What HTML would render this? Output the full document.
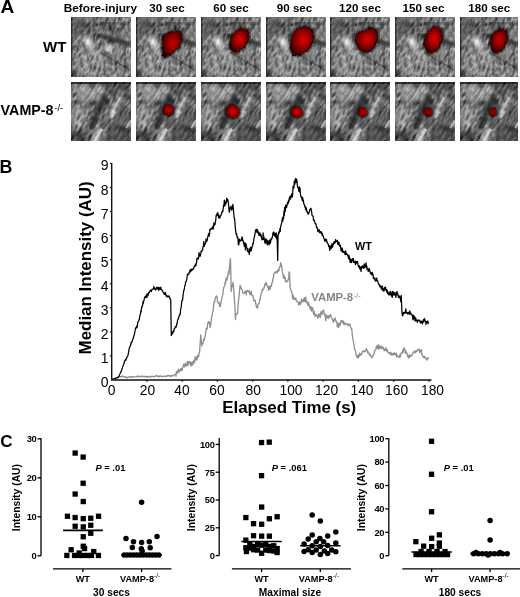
<!DOCTYPE html><html><head><meta charset="utf-8"><style>
html,body{margin:0;padding:0;background:#fff;}
body{width:520px;height:597px;overflow:hidden;position:relative;}
svg{position:absolute;left:0;top:0;}
text{font-family:"Liberation Sans", sans-serif;}
</style></head><body>
<svg width="520" height="597" viewBox="0 0 520 597">
<defs>
<filter id="tex" x="0" y="0" width="100%" height="100%" color-interpolation-filters="sRGB">
 <feTurbulence type="fractalNoise" baseFrequency="0.4 0.16" numOctaves="2" seed="4"/>
 <feColorMatrix type="matrix" values="0.33 0.33 0.33 0 0  0.33 0.33 0.33 0 0  0.33 0.33 0.33 0 0  0 0 0 0 1"/>
 <feComponentTransfer><feFuncR type="linear" slope="2.0" intercept="-0.5"/><feFuncG type="linear" slope="2.0" intercept="-0.5"/><feFuncB type="linear" slope="2.0" intercept="-0.5"/></feComponentTransfer>
</filter>
<filter id="tex2" x="0" y="0" width="100%" height="100%" color-interpolation-filters="sRGB">
 <feTurbulence type="fractalNoise" baseFrequency="0.4 0.13" numOctaves="2" seed="9"/>
 <feColorMatrix type="matrix" values="0.33 0.33 0.33 0 0  0.33 0.33 0.33 0 0  0.33 0.33 0.33 0 0  0 0 0 0 1"/>
 <feComponentTransfer><feFuncR type="linear" slope="2.0" intercept="-0.5"/><feFuncG type="linear" slope="2.0" intercept="-0.5"/><feFuncB type="linear" slope="2.0" intercept="-0.5"/></feComponentTransfer>
</filter>
<filter id="rough" x="-20%" y="-20%" width="140%" height="140%"><feTurbulence type="fractalNoise" baseFrequency="0.5" numOctaves="1" seed="2" result="t"/><feDisplacementMap in="SourceGraphic" in2="t" scale="4" xChannelSelector="R" yChannelSelector="G"/></filter>
<filter id="b1"><feGaussianBlur stdDeviation="1"/></filter>
<filter id="b2"><feGaussianBlur stdDeviation="2"/></filter>
<filter id="b3"><feGaussianBlur stdDeviation="3"/></filter>
<filter id="b05"><feGaussianBlur stdDeviation="0.6"/></filter>
<radialGradient id="rgB" cx="0.55" cy="0.45" r="0.62"><stop offset="0" stop-color="#e00008"/><stop offset="0.35" stop-color="#ac0004"/><stop offset="0.75" stop-color="#620000"/><stop offset="1" stop-color="#220000"/></radialGradient>
<radialGradient id="rgA" cx="0.55" cy="0.45" r="0.62"><stop offset="0" stop-color="#c80006"/><stop offset="0.4" stop-color="#960004"/><stop offset="0.78" stop-color="#580000"/><stop offset="1" stop-color="#200000"/></radialGradient>
<radialGradient id="rgC" cx="0.5" cy="0.45" r="0.6"><stop offset="0" stop-color="#a00000"/><stop offset="0.6" stop-color="#780000"/><stop offset="1" stop-color="#300000"/></radialGradient>
<radialGradient id="rg1" cx="0.55" cy="0.45" r="0.6"><stop offset="0" stop-color="#e00202"/><stop offset="0.55" stop-color="#b00000"/><stop offset="0.85" stop-color="#700000"/><stop offset="1" stop-color="#300000"/></radialGradient>
<radialGradient id="rg2" cx="0.5" cy="0.45" r="0.6"><stop offset="0" stop-color="#b00000"/><stop offset="0.6" stop-color="#800000"/><stop offset="1" stop-color="#300000"/></radialGradient>
<radialGradient id="bright" r="0.5"><stop offset="0" stop-color="#fff" stop-opacity="0.9"/><stop offset="1" stop-color="#fff" stop-opacity="0"/></radialGradient>
<radialGradient id="dark" r="0.5"><stop offset="0" stop-color="#000" stop-opacity="0.7"/><stop offset="1" stop-color="#000" stop-opacity="0"/></radialGradient>
<g id="wtbg">
 <rect x="0" y="0" width="60" height="60" fill="#7a7a7a"/>
 <g filter="url(#b2)">
  <rect x="0" y="0" width="26" height="20" fill="#606060"/>
  <ellipse cx="40" cy="12" rx="14" ry="5" transform="rotate(8 40 12)" fill="#5e5e5e"/>
  <ellipse cx="38" cy="31" rx="9" ry="4" transform="rotate(25 38 31)" fill="#9a9a9a"/>
  <rect x="0" y="32" width="30" height="28" fill="#878787"/>
  <rect x="33" y="40" width="27" height="20" fill="#7c7c7c"/>
  <rect x="0" y="52" width="8" height="8" fill="#4a4a4a"/>
  <rect x="54" y="10" width="6" height="24" fill="#8a8a8a"/>
 </g>
 <path d="M24 8 Q40 4 56 8" stroke="#2a2a2a" stroke-width="2.5" fill="none" opacity="0.7" filter="url(#b1)"/>
 <path d="M22 18 Q40 20 60 29" stroke="#1e1e1e" stroke-width="5" fill="none" opacity="0.65" filter="url(#b1)"/>
 <rect x="0" y="0" width="1.5" height="60" fill="#333"/>
 <g transform="rotate(20 30 30)" style="mix-blend-mode:overlay"><rect x="-30" y="-30" width="120" height="120" filter="url(#tex)" opacity="0.8"/></g>
 <ellipse cx="17" cy="25" rx="6" ry="9" transform="rotate(-35 17 25)" fill="url(#bright)"/>
 <ellipse cx="24" cy="34" rx="6" ry="12" transform="rotate(-40 24 34)" fill="url(#bright)" opacity="0.35"/>
 <ellipse cx="37" cy="33" rx="4" ry="3" fill="url(#bright)" opacity="0.8"/>
 <path d="M30 36 Q45 44 60 54" stroke="#1a1a1a" stroke-width="1.8" fill="none" opacity="0.35" filter="url(#b05)"/>
 <path d="M30 0 L24 22" stroke="#ddd" stroke-width="1.4" opacity="0.3" filter="url(#b05)"/>
 <path d="M31 39 L23 60" stroke="#ddd" stroke-width="1.6" opacity="0.35" filter="url(#b05)"/>
 <path d="M21 31 L6 58" stroke="#ddd" stroke-width="1.4" opacity="0.3" filter="url(#b05)"/>
</g>
<g id="vbg">
 <rect x="0" y="0" width="60" height="60" fill="#686868"/>
 <g filter="url(#b2)">
  <rect x="2" y="2" width="30" height="16" fill="#929292"/>
  <rect x="0" y="20" width="16" height="26" fill="#8a8a8a"/>
  <ellipse cx="46" cy="7" rx="12" ry="6" fill="#484848"/>
  <rect x="0" y="50" width="15" height="10" fill="#3a3a3a"/>
  <rect x="36" y="44" width="24" height="16" fill="#505050"/>
  <rect x="46" y="18" width="14" height="24" fill="#5a5a5a"/>
  <path d="M52 10 L38 38" stroke="#9a9a9a" stroke-width="5" fill="none"/>
  <path d="M30 46 L22 60" stroke="#a8a8a8" stroke-width="8" fill="none"/>
 </g>
 <path d="M35 12 Q27 28 20 47" stroke="#2a2a2a" stroke-width="6" fill="none" opacity="0.8" filter="url(#b1)"/>
 <rect x="0" y="0" width="60" height="2" fill="#2a2a2a" filter="url(#b05)"/>
 <g transform="rotate(30 30 30)" style="mix-blend-mode:overlay"><rect x="-30" y="-30" width="120" height="120" filter="url(#tex2)" opacity="0.8"/></g>
 <path d="M49 15 L41 31" stroke="#eee" stroke-width="2.2" opacity="0.55" filter="url(#b05)"/>
 <path d="M60 38 L55 46" stroke="#eee" stroke-width="2" opacity="0.5" filter="url(#b05)"/>
 <path d="M31 47 L23 60" stroke="#f4f4f4" stroke-width="2.5" opacity="0.6" filter="url(#b05)"/>
 <ellipse cx="8" cy="41" rx="4" ry="4" fill="url(#bright)" opacity="0.7"/>
 <ellipse cx="43" cy="30" rx="3" ry="3" fill="url(#bright)" opacity="0.7"/>
</g>
</defs>
<svg x="71" y="17" width="60" height="60" viewBox="0 0 60 60" overflow="hidden">
<use href="#wtbg"/>
</svg>
<svg x="136" y="17" width="60" height="60" viewBox="0 0 60 60" overflow="hidden">
<use href="#wtbg"/>
<polygon points="27.6,19.9 30.6,16.9 34.8,15.1 40.1,14.5 44.9,15.1 45.5,19.3 44.3,26.4 43.1,30.6 39.5,33.0 36.0,36.0 32.4,38.3 28.8,40.7 27.0,38.3 26.7,31.2 27.0,24.0" fill="#000" stroke="#000" stroke-width="3" stroke-linejoin="round" opacity="0.7" filter="url(#b1)"/>
<polygon points="27.6,19.9 30.6,16.9 34.8,15.1 40.1,14.5 44.9,15.1 45.5,19.3 44.3,26.4 43.1,30.6 39.5,33.0 36.0,36.0 32.4,38.3 28.8,40.7 27.0,38.3 26.7,31.2 27.0,24.0" fill="url(#rgA)" stroke="#2a0000" stroke-width="1" stroke-linejoin="round" filter="url(#rough)"/>
</svg>
<svg x="201" y="17" width="60" height="60" viewBox="0 0 60 60" overflow="hidden">
<use href="#wtbg"/>
<polygon points="29.4,22.8 31.2,18.7 34.8,14.5 39.5,12.4 44.3,12.7 47.3,15.1 47.3,19.9 46.1,25.2 43.1,30.0 39.5,33.0 36.0,34.8 32.4,34.8 30.2,32.4 29.0,28.2" fill="#000" stroke="#000" stroke-width="3" stroke-linejoin="round" opacity="0.7" filter="url(#b1)"/>
<polygon points="29.4,22.8 31.2,18.7 34.8,14.5 39.5,12.4 44.3,12.7 47.3,15.1 47.3,19.9 46.1,25.2 43.1,30.0 39.5,33.0 36.0,34.8 32.4,34.8 30.2,32.4 29.0,28.2" fill="url(#rgB)" stroke="#2a0000" stroke-width="1" stroke-linejoin="round" filter="url(#rough)"/>
</svg>
<svg x="266" y="17" width="60" height="60" viewBox="0 0 60 60" overflow="hidden">
<use href="#wtbg"/>
<polygon points="25.2,22.8 27.0,16.9 31.2,12.1 37.2,10.3 43.1,10.9 46.7,14.5 47.3,20.5 45.5,27.6 41.9,32.4 37.2,36.0 32.4,38.3 28.2,38.3 25.5,34.8 24.6,28.8" fill="#000" stroke="#000" stroke-width="3" stroke-linejoin="round" opacity="0.7" filter="url(#b1)"/>
<polygon points="25.2,22.8 27.0,16.9 31.2,12.1 37.2,10.3 43.1,10.9 46.7,14.5 47.3,20.5 45.5,27.6 41.9,32.4 37.2,36.0 32.4,38.3 28.2,38.3 25.5,34.8 24.6,28.8" fill="url(#rgB)" stroke="#2a0000" stroke-width="1" stroke-linejoin="round" filter="url(#rough)"/>
</svg>
<svg x="330" y="17" width="60" height="60" viewBox="0 0 60 60" overflow="hidden">
<use href="#wtbg"/>
<polygon points="25.8,19.9 28.2,15.7 33.6,14.5 38.3,12.1 44.3,12.1 47.3,15.7 46.7,22.8 44.9,28.8 41.3,33.0 37.2,34.8 32.4,34.8 29.4,31.8 27.0,27.6 25.5,23.4" fill="#000" stroke="#000" stroke-width="3" stroke-linejoin="round" opacity="0.7" filter="url(#b1)"/>
<polygon points="25.8,19.9 28.2,15.7 33.6,14.5 38.3,12.1 44.3,12.1 47.3,15.7 46.7,22.8 44.9,28.8 41.3,33.0 37.2,34.8 32.4,34.8 29.4,31.8 27.0,27.6 25.5,23.4" fill="url(#rgB)" stroke="#2a0000" stroke-width="1" stroke-linejoin="round" filter="url(#rough)"/>
</svg>
<svg x="395" y="17" width="60" height="60" viewBox="0 0 60 60" overflow="hidden">
<use href="#wtbg"/>
<polygon points="30.2,20.5 33.6,14.5 37.8,10.9 42.5,10.3 46.1,12.7 47.3,18.1 46.1,25.2 43.7,30.6 40.1,34.2 36.0,36.0 32.4,34.8 30.2,30.6 29.4,25.2" fill="#000" stroke="#000" stroke-width="3" stroke-linejoin="round" opacity="0.7" filter="url(#b1)"/>
<polygon points="30.2,20.5 33.6,14.5 37.8,10.9 42.5,10.3 46.1,12.7 47.3,18.1 46.1,25.2 43.7,30.6 40.1,34.2 36.0,36.0 32.4,34.8 30.2,30.6 29.4,25.2" fill="url(#rgB)" stroke="#2a0000" stroke-width="1" stroke-linejoin="round" filter="url(#rough)"/>
</svg>
<svg x="460" y="17" width="58" height="60" viewBox="0 0 58 60" overflow="hidden">
<use href="#wtbg"/>
<polygon points="30.8,21.1 33.8,16.3 38.5,13.3 43.3,12.7 46.6,14.5 46.9,19.9 45.7,26.4 42.7,31.8 38.5,35.4 34.4,35.4 32.0,32.4 30.4,26.4" fill="#000" stroke="#000" stroke-width="3" stroke-linejoin="round" opacity="0.7" filter="url(#b1)"/>
<polygon points="30.8,21.1 33.8,16.3 38.5,13.3 43.3,12.7 46.6,14.5 46.9,19.9 45.7,26.4 42.7,31.8 38.5,35.4 34.4,35.4 32.0,32.4 30.4,26.4" fill="url(#rgA)" stroke="#2a0000" stroke-width="1" stroke-linejoin="round" filter="url(#rough)"/>
</svg>
<svg x="71" y="82" width="60" height="59" viewBox="0 0 60 59" overflow="hidden">
<use href="#vbg"/>
</svg>
<svg x="136" y="82" width="60" height="59" viewBox="0 0 60 59" overflow="hidden">
<use href="#vbg"/>
<ellipse cx="32.4" cy="28.2" rx="9.5" ry="12.8" transform="rotate(0 32.4 30.2)" fill="#123" opacity="0.22" filter="url(#b2)"/>
<ellipse cx="32.4" cy="28.2" rx="6.5" ry="6.8" transform="rotate(0 32.4 28.2)" fill="#000" opacity="0.45" filter="url(#b05)"/>
<ellipse cx="32.4" cy="28.2" rx="5.5" ry="5.8" transform="rotate(0 32.4 28.2)" fill="url(#rgA)" filter="url(#rough)"/>
</svg>
<svg x="201" y="82" width="60" height="59" viewBox="0 0 60 59" overflow="hidden">
<use href="#vbg"/>
<ellipse cx="31.5" cy="29.8" rx="11.2" ry="13.8" transform="rotate(30 31.5 31.8)" fill="#123" opacity="0.22" filter="url(#b2)"/>
<ellipse cx="31.5" cy="29.8" rx="8.2" ry="7.8" transform="rotate(30 31.5 29.8)" fill="#000" opacity="0.45" filter="url(#b05)"/>
<ellipse cx="31.5" cy="29.8" rx="7.2" ry="6.8" transform="rotate(30 31.5 29.8)" fill="url(#rgB)" filter="url(#rough)"/>
</svg>
<svg x="266" y="82" width="60" height="59" viewBox="0 0 60 59" overflow="hidden">
<use href="#vbg"/>
<ellipse cx="30.6" cy="30.2" rx="10.3" ry="12.6" transform="rotate(30 30.6 32.2)" fill="#123" opacity="0.22" filter="url(#b2)"/>
<ellipse cx="30.6" cy="30.2" rx="7.3" ry="6.6" transform="rotate(30 30.6 30.2)" fill="#000" opacity="0.45" filter="url(#b05)"/>
<ellipse cx="30.6" cy="30.2" rx="6.3" ry="5.6" transform="rotate(30 30.6 30.2)" fill="url(#rgB)" filter="url(#rough)"/>
</svg>
<svg x="330" y="82" width="60" height="59" viewBox="0 0 60 59" overflow="hidden">
<use href="#vbg"/>
<ellipse cx="32.6" cy="30.2" rx="8.8" ry="12" transform="rotate(30 32.6 32.2)" fill="#123" opacity="0.22" filter="url(#b2)"/>
<ellipse cx="32.6" cy="30.2" rx="5.8" ry="6" transform="rotate(30 32.6 30.2)" fill="#000" opacity="0.45" filter="url(#b05)"/>
<ellipse cx="32.6" cy="30.2" rx="4.8" ry="5" transform="rotate(30 32.6 30.2)" fill="url(#rgA)" filter="url(#rough)"/>
</svg>
<svg x="395" y="82" width="60" height="59" viewBox="0 0 60 59" overflow="hidden">
<use href="#vbg"/>
<ellipse cx="33.3" cy="30.2" rx="8.2" ry="11.6" transform="rotate(30 33.3 32.2)" fill="#123" opacity="0.22" filter="url(#b2)"/>
<ellipse cx="33.3" cy="30.2" rx="5.2" ry="5.6" transform="rotate(30 33.3 30.2)" fill="#000" opacity="0.45" filter="url(#b05)"/>
<ellipse cx="33.3" cy="30.2" rx="4.2" ry="4.6" transform="rotate(30 33.3 30.2)" fill="url(#rgC)" filter="url(#rough)"/>
</svg>
<svg x="460" y="82" width="58" height="59" viewBox="0 0 58 59" overflow="hidden">
<use href="#vbg"/>
<ellipse cx="33.2" cy="30.2" rx="7.4" ry="11.6" transform="rotate(20 33.2 32.2)" fill="#123" opacity="0.22" filter="url(#b2)"/>
<ellipse cx="33.2" cy="30.2" rx="4.4" ry="5.6" transform="rotate(20 33.2 30.2)" fill="#000" opacity="0.45" filter="url(#b05)"/>
<ellipse cx="33.2" cy="30.2" rx="3.4" ry="4.6" transform="rotate(20 33.2 30.2)" fill="url(#rgC)" filter="url(#rough)"/>
</svg>
<text x="100.4" y="12.4" font-size="11.75" font-weight="bold" text-anchor="middle" fill="#000"  >Before-injury</text>
<text x="167.0" y="12.4" font-size="11.6" font-weight="bold" text-anchor="middle" fill="#000"  >30 sec</text>
<text x="231.0" y="12.4" font-size="11.6" font-weight="bold" text-anchor="middle" fill="#000"  >60 sec</text>
<text x="294.5" y="12.4" font-size="11.6" font-weight="bold" text-anchor="middle" fill="#000"  >90 sec</text>
<text x="360.0" y="12.4" font-size="11.6" font-weight="bold" text-anchor="middle" fill="#000"  >120 sec</text>
<text x="423.5" y="12.4" font-size="11.6" font-weight="bold" text-anchor="middle" fill="#000"  >150 sec</text>
<text x="489.3" y="12.4" font-size="11.6" font-weight="bold" text-anchor="middle" fill="#000"  >180 sec</text>
<text x="0.5" y="12.7" font-size="19" font-weight="bold" text-anchor="start" fill="#000"  >A</text>
<text x="66.4" y="52.3" font-size="15" font-weight="bold" text-anchor="end" fill="#000"  >WT</text>
<text x="0.6" y="114.6" font-size="14.3" font-weight="bold">VAMP-8<tspan font-size="9.7" font-weight="normal" dx="0.6" dy="-3.7">-/-</tspan></text>
<g stroke="#111" stroke-width="1.4" fill="none">
<path d="M111.7 163 L111.7 380.0 L431.5 380.0"/>
</g><g stroke="#111" stroke-width="1.2" fill="none">
<path d="M109.9 355.9 L111.7 355.9"/>
<path d="M109.9 331.9 L111.7 331.9"/>
<path d="M109.9 307.8 L111.7 307.8"/>
<path d="M109.9 283.8 L111.7 283.8"/>
<path d="M109.9 259.7 L111.7 259.7"/>
<path d="M109.9 235.6 L111.7 235.6"/>
<path d="M109.9 211.6 L111.7 211.6"/>
<path d="M109.9 187.5 L111.7 187.5"/>
<path d="M109.9 163.5 L111.7 163.5"/>
<path d="M146.9 380.0 L146.9 381.8"/>
<path d="M182.2 380.0 L182.2 381.8"/>
<path d="M217.4 380.0 L217.4 381.8"/>
<path d="M252.7 380.0 L252.7 381.8"/>
<path d="M287.9 380.0 L287.9 381.8"/>
<path d="M323.2 380.0 L323.2 381.8"/>
<path d="M358.4 380.0 L358.4 381.8"/>
<path d="M393.7 380.0 L393.7 381.8"/>
<path d="M428.9 380.0 L428.9 381.8"/>
</g>
<text x="108.6" y="387.3" font-size="14" font-weight="normal" text-anchor="end" fill="#000"  >0</text>
<text x="108.6" y="362.94" font-size="14" font-weight="normal" text-anchor="end" fill="#000"  >1</text>
<text x="108.6" y="338.88" font-size="14" font-weight="normal" text-anchor="end" fill="#000"  >2</text>
<text x="108.6" y="314.82" font-size="14" font-weight="normal" text-anchor="end" fill="#000"  >3</text>
<text x="108.6" y="290.76" font-size="14" font-weight="normal" text-anchor="end" fill="#000"  >4</text>
<text x="108.6" y="266.7" font-size="14" font-weight="normal" text-anchor="end" fill="#000"  >5</text>
<text x="108.6" y="242.64000000000001" font-size="14" font-weight="normal" text-anchor="end" fill="#000"  >6</text>
<text x="108.6" y="218.58" font-size="14" font-weight="normal" text-anchor="end" fill="#000"  >7</text>
<text x="108.6" y="194.52" font-size="14" font-weight="normal" text-anchor="end" fill="#000"  >8</text>
<text x="108.6" y="170.46" font-size="14" font-weight="normal" text-anchor="end" fill="#000"  >9</text>
<text x="111.7" y="395.3" font-size="13.8" font-weight="normal" text-anchor="middle" fill="#000"  >0</text>
<text x="147.4" y="395.3" font-size="13.8" font-weight="normal" text-anchor="middle" fill="#000"  >20</text>
<text x="181.9" y="395.3" font-size="13.8" font-weight="normal" text-anchor="middle" fill="#000"  >40</text>
<text x="217" y="395.3" font-size="13.8" font-weight="normal" text-anchor="middle" fill="#000"  >60</text>
<text x="253.3" y="395.3" font-size="13.8" font-weight="normal" text-anchor="middle" fill="#000"  >80</text>
<text x="291" y="395.3" font-size="13.8" font-weight="normal" text-anchor="middle" fill="#000"  >100</text>
<text x="326.6" y="395.3" font-size="13.8" font-weight="normal" text-anchor="middle" fill="#000"  >120</text>
<text x="362" y="395.3" font-size="13.8" font-weight="normal" text-anchor="middle" fill="#000"  >140</text>
<text x="396.6" y="395.3" font-size="13.8" font-weight="normal" text-anchor="middle" fill="#000"  >160</text>
<text x="432.5" y="395.3" font-size="13.8" font-weight="normal" text-anchor="middle" fill="#000"  >180</text>
<text x="289.2" y="413.2" font-size="16.9" font-weight="bold" text-anchor="middle" fill="#000"  >Elapsed Time (s)</text>
<text transform="translate(91 267.9) rotate(-90)" x="0" y="0" font-size="16.95" font-weight="bold" text-anchor="middle">Median Intensity (AU)</text>
<text x="-0.6" y="173.3" font-size="17.8" font-weight="bold" text-anchor="start" fill="#000"  >B</text>
<text x="355" y="249.8" font-size="10.8" font-weight="bold" text-anchor="start" fill="#000"  >WT</text>
<text x="311.3" y="301.4" font-size="11.3" font-weight="bold" fill="#858585">VAMP-8<tspan font-size="7.2" font-weight="normal" dx="0.6" dy="-3.3">-/-</tspan></text>
<path d="M111.8 379.6 L112.2 379.4 L112.6 379.5 L113.0 379.9 L113.5 379.2 L113.9 379.5 L114.3 379.1 L114.7 378.6 L115.1 378.1 L115.5 377.7 L115.9 378.0 L116.3 377.8 L116.8 377.5 L117.2 377.7 L117.6 377.1 L118.0 376.8 L118.4 377.3 L118.8 376.7 L119.2 376.6 L119.6 376.4 L120.0 376.8 L120.4 376.8 L120.8 376.6 L121.2 376.7 L121.6 376.9 L122.0 376.2 L122.5 375.9 L122.9 376.1 L123.3 376.6 L123.7 376.4 L124.1 376.9 L124.5 376.9 L124.9 376.9 L125.3 377.2 L125.7 376.7 L126.1 377.8 L126.5 377.5 L126.9 377.7 L127.3 377.3 L127.7 377.2 L128.1 377.0 L128.5 376.9 L128.9 376.9 L129.3 377.0 L129.7 376.9 L130.1 377.2 L130.6 376.8 L131.0 377.3 L131.4 377.6 L131.8 376.9 L132.2 377.0 L132.6 376.5 L133.0 376.5 L133.4 376.7 L133.8 376.8 L134.2 376.9 L134.6 376.8 L135.0 376.8 L135.4 376.9 L135.8 376.9 L136.2 376.8 L136.6 376.5 L137.0 376.5 L137.4 376.2 L137.8 376.7 L138.3 376.0 L138.7 376.9 L139.1 376.4 L139.5 376.6 L139.9 376.7 L140.3 376.6 L140.7 376.4 L141.1 376.1 L141.5 376.5 L141.9 376.2 L142.3 376.7 L142.7 376.3 L143.1 376.6 L143.5 376.3 L143.9 376.4 L144.3 376.8 L144.7 376.4 L145.1 376.7 L145.5 376.5 L145.9 376.2 L146.4 376.9 L146.8 376.4 L147.2 376.5 L147.6 377.0 L148.0 376.6 L148.4 376.9 L148.8 376.7 L149.2 376.6 L149.6 376.9 L150.0 376.6 L150.4 376.2 L150.8 377.1 L151.2 376.8 L151.6 376.4 L152.0 376.3 L152.4 376.5 L152.8 376.3 L153.3 376.5 L153.7 376.7 L154.1 376.8 L154.5 376.4 L154.9 376.5 L155.3 376.2 L155.7 376.0 L156.1 375.5 L156.5 376.0 L156.9 376.1 L157.3 375.9 L157.7 376.3 L158.1 376.0 L158.5 376.6 L159.0 376.9 L159.4 376.4 L159.8 376.0 L160.2 376.3 L160.6 376.1 L161.0 376.0 L161.4 376.3 L161.8 376.4 L162.2 376.3 L162.6 376.8 L163.0 376.4 L163.4 376.1 L163.8 376.1 L164.2 376.2 L164.6 376.3 L165.1 376.6 L165.5 376.3 L165.9 376.3 L166.3 375.9 L166.7 376.3 L167.1 376.2 L167.5 375.7 L167.9 375.5 L168.3 375.5 L168.7 375.8 L169.1 375.6 L169.5 376.1 L169.9 375.4 L170.3 376.2 L170.8 376.3 L171.2 375.7 L171.6 376.2 L172.0 375.7 L172.4 375.8 L172.8 375.5 L173.2 375.6 L173.6 375.6 L174.0 375.2 L174.4 374.7 L174.8 374.6 L175.2 374.1 L175.6 374.1 L176.0 376.1 L176.4 371.5 L176.8 373.3 L177.2 373.1 L177.6 371.6 L178.0 371.9 L178.4 369.2 L178.8 372.4 L179.2 369.7 L179.6 371.0 L180.0 369.8 L180.4 370.3 L180.8 368.5 L181.2 368.6 L181.6 370.7 L182.0 370.6 L182.4 368.8 L182.8 367.3 L183.2 366.1 L183.7 364.1 L184.1 366.2 L184.5 366.9 L184.9 366.8 L185.3 363.1 L185.7 365.2 L186.1 365.5 L186.5 364.4 L186.9 365.7 L187.3 361.4 L187.8 365.6 L188.2 363.9 L188.6 361.8 L189.0 363.5 L189.4 361.3 L189.9 363.0 L190.3 362.0 L190.7 366.0 L191.2 363.3 L191.6 362.5 L192.0 365.3 L192.5 361.8 L192.9 364.3 L193.3 362.6 L193.8 360.5 L194.2 362.2 L194.6 362.7 L195.0 356.8 L195.4 358.4 L195.9 359.5 L196.3 360.0 L196.7 356.3 L197.1 359.8 L197.5 357.5 L197.9 355.1 L198.4 356.9 L198.8 355.8 L199.2 352.3 L199.6 352.4 L200.7 335.0 L201.8 345.8 L202.2 343.5 L202.6 343.9 L203.0 343.8 L203.4 340.3 L203.8 338.9 L204.2 340.3 L204.6 338.0 L205.1 336.8 L205.5 334.1 L205.9 330.7 L206.3 329.3 L206.7 327.9 L207.1 329.2 L207.5 325.1 L207.9 322.9 L208.3 321.9 L208.7 321.4 L209.2 323.3 L209.6 322.7 L210.1 327.7 L210.5 326.2 L210.9 323.8 L211.3 319.4 L211.7 317.2 L212.2 314.5 L212.6 311.8 L213.0 311.5 L213.4 307.5 L213.8 304.5 L214.2 301.4 L214.6 302.1 L215.1 299.3 L215.5 297.6 L215.9 296.8 L216.3 296.0 L216.7 296.1 L217.1 297.4 L217.5 301.4 L217.9 302.3 L218.3 303.1 L218.7 303.0 L219.1 302.3 L219.5 306.1 L219.9 304.8 L220.3 306.6 L220.7 304.1 L221.2 300.6 L221.6 299.8 L222.1 296.6 L222.5 295.7 L222.9 293.7 L223.4 289.6 L223.8 287.3 L224.2 286.6 L224.7 286.2 L225.1 282.0 L225.5 283.9 L225.9 279.9 L226.4 277.5 L226.8 280.5 L227.2 278.2 L227.7 276.7 L228.1 273.8 L228.6 271.2 L229.0 274.0 L229.5 267.0 L230.0 262.0 L230.5 258.7 L231.2 291.4 L231.6 288.5 L232.1 285.0 L232.5 286.3 L233.0 282.5 L233.4 284.9 L233.8 290.9 L234.2 295.9 L234.7 303.7 L235.1 309.6 L235.5 319.7 L235.9 313.4 L236.4 314.2 L236.8 313.7 L237.3 313.8 L237.7 313.2 L238.1 303.9 L238.6 300.1 L239.0 296.0 L239.5 291.1 L239.9 286.0 L240.3 285.5 L240.7 288.2 L241.1 287.4 L241.6 289.3 L242.0 289.7 L242.4 291.2 L242.8 292.8 L243.2 293.6 L243.6 293.3 L244.1 293.2 L244.5 293.0 L244.9 291.3 L245.3 292.2 L245.8 290.8 L246.2 294.8 L246.6 291.7 L247.1 290.8 L247.5 290.3 L247.9 290.3 L248.3 291.9 L248.8 290.9 L249.2 291.1 L249.6 292.8 L250.0 294.5 L250.5 292.7 L250.9 294.8 L251.3 291.2 L251.7 294.4 L252.2 295.2 L252.6 295.9 L253.0 295.7 L253.4 298.8 L253.9 300.3 L254.3 300.9 L254.7 300.2 L255.2 300.6 L255.6 303.6 L256.0 303.6 L256.4 307.3 L256.9 307.0 L257.3 307.7 L257.7 308.0 L258.1 304.6 L258.5 303.9 L259.0 303.5 L259.4 302.4 L259.8 299.0 L260.2 299.4 L260.6 295.7 L261.0 294.7 L261.4 292.7 L261.8 292.4 L262.3 289.4 L262.7 290.4 L263.1 289.6 L263.5 288.0 L263.9 288.4 L264.3 287.7 L264.8 284.0 L265.2 285.3 L265.6 284.0 L266.0 282.7 L266.4 282.6 L266.8 285.1 L267.3 285.3 L267.7 287.4 L268.1 286.4 L268.5 290.3 L268.9 289.4 L269.4 288.6 L269.8 286.2 L270.2 289.1 L270.6 286.6 L271.0 285.4 L271.4 286.4 L271.8 282.9 L272.2 282.9 L272.6 280.8 L273.0 278.5 L273.4 277.7 L273.8 273.8 L274.2 273.3 L274.6 273.4 L275.1 272.0 L275.5 272.5 L275.9 272.1 L276.4 271.7 L276.8 272.7 L277.2 272.7 L277.6 270.5 L278.1 269.8 L278.5 271.2 L278.9 270.9 L279.3 267.7 L279.8 266.6 L280.2 266.8 L280.6 262.7 L281.0 263.7 L281.4 265.4 L281.9 268.4 L282.3 271.2 L282.7 273.3 L283.1 275.3 L283.5 278.0 L284.0 275.4 L284.4 278.4 L284.8 278.9 L285.2 277.6 L285.6 281.9 L286.1 280.8 L286.5 281.2 L286.9 281.7 L287.3 281.0 L287.8 281.2 L288.2 278.8 L288.6 279.1 L289.1 272.0 L289.5 272.2 L290.1 287.0 L290.6 289.7 L291.0 290.9 L291.5 291.5 L291.9 292.4 L292.4 295.5 L292.8 299.0 L293.3 295.5 L293.7 298.5 L294.1 297.8 L294.6 299.7 L295.0 298.4 L295.4 299.4 L295.8 298.2 L296.2 300.5 L296.7 301.1 L297.1 301.5 L297.5 301.5 L297.9 302.5 L298.3 303.2 L298.8 305.1 L299.2 303.2 L299.6 301.8 L300.0 302.3 L300.4 304.7 L300.8 302.2 L301.2 302.5 L301.6 299.1 L302.0 300.4 L302.5 301.4 L302.9 299.8 L303.3 301.6 L303.7 298.9 L304.1 300.0 L304.5 297.6 L304.9 301.8 L305.3 301.2 L305.7 297.1 L306.1 300.4 L306.5 302.3 L306.9 301.1 L307.3 303.3 L307.8 305.3 L308.2 305.0 L308.6 302.7 L309.0 305.6 L309.4 305.2 L309.8 306.3 L310.2 309.2 L310.6 307.7 L311.0 306.5 L311.5 311.1 L311.9 307.9 L312.3 309.5 L312.7 307.6 L313.1 310.3 L313.6 314.4 L314.0 311.3 L314.4 312.7 L314.8 313.6 L315.2 316.4 L315.7 316.3 L316.1 314.7 L316.5 315.6 L316.9 315.3 L317.4 316.1 L317.8 318.5 L318.2 315.8 L318.6 314.6 L319.1 313.8 L319.5 316.6 L319.9 316.0 L320.3 317.7 L320.8 311.8 L321.2 313.3 L321.6 311.8 L322.0 314.5 L322.5 311.8 L322.9 310.3 L323.3 312.0 L323.7 310.2 L324.2 314.3 L324.6 315.4 L325.0 313.9 L325.4 317.4 L325.8 320.6 L326.3 317.5 L326.7 315.1 L327.1 315.6 L327.5 317.6 L328.0 317.6 L328.4 318.6 L328.8 315.7 L329.2 317.0 L329.7 316.8 L330.1 316.0 L330.5 314.3 L331.0 315.8 L331.4 317.7 L331.8 318.4 L332.2 318.9 L332.7 320.6 L333.1 320.1 L333.5 322.3 L333.9 321.4 L334.3 318.5 L334.8 319.1 L335.2 318.2 L335.6 320.9 L336.0 320.5 L336.4 321.5 L336.9 322.1 L337.3 326.9 L337.7 324.0 L338.1 323.1 L338.5 327.6 L338.9 324.8 L339.3 323.2 L339.7 324.2 L340.1 325.5 L340.6 322.2 L341.0 320.3 L341.4 321.6 L341.8 321.6 L342.2 322.2 L342.6 320.6 L343.0 323.0 L343.4 321.3 L343.8 324.3 L344.2 322.7 L344.6 322.4 L345.0 324.7 L345.4 324.0 L345.9 324.1 L346.3 323.9 L346.7 323.7 L347.1 324.3 L347.5 324.2 L347.9 325.4 L348.3 324.0 L348.7 325.7 L349.2 324.2 L349.6 324.4 L350.1 324.2 L350.5 326.9 L351.0 327.7 L351.4 329.3 L351.8 329.0 L352.2 334.1 L352.6 337.6 L353.0 339.2 L353.4 341.5 L353.8 344.5 L354.2 346.3 L354.6 349.4 L355.0 350.4 L355.4 350.5 L355.9 353.1 L356.3 355.0 L356.7 356.8 L357.1 357.4 L357.5 356.1 L357.9 355.2 L358.3 357.9 L358.7 357.2 L359.1 356.3 L359.6 353.2 L360.0 355.0 L360.4 355.0 L360.8 355.3 L361.2 353.6 L361.7 354.0 L362.1 352.6 L362.5 351.3 L362.9 351.6 L363.4 350.9 L363.8 351.2 L364.2 352.0 L364.7 350.8 L365.1 351.3 L365.6 350.9 L366.0 349.4 L366.4 348.7 L366.9 350.3 L367.3 350.3 L367.7 353.0 L368.2 351.8 L368.6 352.4 L369.0 354.0 L369.5 354.7 L369.9 355.5 L370.3 354.5 L370.8 355.6 L371.2 356.4 L371.6 357.7 L372.1 357.0 L372.5 357.2 L372.9 356.1 L373.4 355.3 L373.8 353.5 L374.2 353.3 L374.6 351.3 L375.1 350.4 L375.5 349.7 L375.9 349.5 L376.4 345.8 L376.8 346.8 L377.2 348.4 L377.7 345.8 L378.1 344.6 L378.6 349.2 L379.0 346.6 L379.4 345.9 L379.9 345.7 L380.3 348.5 L380.8 347.4 L381.2 348.6 L381.6 346.5 L382.1 346.4 L382.5 348.0 L382.9 348.4 L383.3 347.3 L383.8 350.0 L384.2 350.8 L384.6 349.1 L385.0 350.4 L385.4 349.1 L385.9 347.7 L386.3 350.3 L386.7 351.4 L387.2 349.6 L387.6 351.7 L388.1 352.5 L388.5 352.7 L388.9 353.4 L389.4 352.5 L389.8 353.7 L390.2 354.2 L390.7 354.6 L391.1 352.4 L391.5 355.0 L392.0 353.4 L392.4 353.7 L392.8 354.7 L393.3 355.1 L393.7 353.2 L394.1 354.6 L394.6 352.8 L395.0 353.7 L395.4 354.7 L395.9 355.0 L396.3 353.1 L396.7 356.9 L397.2 355.5 L397.6 355.9 L398.0 356.6 L398.5 357.1 L398.9 357.3 L399.3 357.2 L399.8 355.0 L400.2 357.2 L400.6 355.4 L401.1 352.8 L401.5 352.9 L401.9 353.2 L402.4 352.8 L402.8 349.9 L403.2 352.3 L403.6 349.7 L404.1 347.7 L404.5 348.6 L404.9 349.0 L405.4 353.3 L405.8 350.8 L406.2 352.2 L406.6 352.6 L407.1 353.5 L407.5 356.3 L407.9 356.0 L408.4 357.5 L408.8 358.1 L409.2 354.5 L409.7 356.8 L410.1 356.6 L410.5 355.8 L411.0 356.4 L411.4 354.9 L411.8 355.6 L412.3 354.9 L412.7 353.9 L413.1 352.2 L413.6 351.9 L414.0 352.0 L414.4 351.1 L414.8 352.9 L415.2 352.7 L415.6 351.1 L416.0 350.8 L416.4 351.4 L416.8 351.7 L417.3 350.5 L417.7 349.6 L418.1 349.2 L418.5 350.0 L418.9 350.4 L419.3 349.2 L419.7 352.5 L420.1 351.2 L420.5 350.4 L421.0 352.1 L421.4 349.6 L421.8 354.8 L422.2 354.1 L422.7 356.1 L423.1 356.5 L423.5 357.5 L424.0 357.8 L424.4 356.3 L424.8 357.3 L425.3 357.8 L425.7 357.5 L426.1 358.2 L426.5 359.6 L427.0 360.0 L427.4 359.6 L427.8 357.9 L428.3 357.9 L428.7 357.2" fill="none" stroke="#8e8e8e" stroke-width="1.3" stroke-linejoin="round"/>
<path d="M111.8 379.6 L112.2 379.5 L112.6 379.1 L112.9 379.1 L113.3 379.1 L113.7 378.9 L114.1 378.7 L114.4 378.6 L114.8 378.8 L115.2 378.9 L115.6 378.8 L115.9 378.2 L116.3 378.0 L116.6 377.8 L117.0 377.9 L117.3 377.8 L117.7 377.6 L118.0 377.7 L118.4 377.1 L118.8 376.4 L119.2 375.5 L119.6 374.8 L119.9 373.9 L120.3 373.2 L120.7 372.5 L121.1 371.6 L121.4 370.5 L121.8 369.5 L122.2 368.2 L122.5 367.4 L122.9 366.2 L123.3 365.2 L123.7 364.1 L124.1 363.4 L124.4 361.3 L124.8 361.0 L125.2 359.9 L125.6 360.4 L126.0 359.6 L126.3 358.3 L126.7 358.3 L127.1 356.8 L127.5 356.2 L127.9 355.5 L128.2 354.3 L128.6 352.2 L129.0 349.7 L129.3 348.1 L129.7 347.2 L130.1 346.3 L130.5 345.7 L130.8 344.8 L131.2 342.1 L131.6 342.8 L132.0 341.8 L132.4 340.5 L132.9 338.9 L133.3 338.1 L133.7 336.6 L134.0 335.8 L134.4 334.3 L134.7 332.6 L135.1 330.9 L135.5 328.0 L135.9 328.3 L136.2 327.9 L136.6 326.2 L137.0 327.6 L137.4 325.7 L137.8 322.1 L138.1 321.8 L138.5 321.0 L138.9 320.1 L139.3 319.9 L139.6 316.9 L140.0 315.3 L140.4 314.5 L140.7 311.1 L141.1 312.1 L141.5 308.1 L141.9 306.4 L142.2 306.9 L142.6 305.4 L143.0 301.7 L143.3 303.4 L143.7 300.8 L144.1 299.9 L144.4 298.4 L144.8 297.0 L145.1 297.4 L145.5 296.5 L145.8 297.2 L146.2 295.0 L146.5 297.2 L146.9 297.5 L147.2 293.6 L147.6 295.0 L148.0 295.8 L148.3 294.1 L148.7 292.5 L149.0 292.9 L149.4 292.1 L149.7 291.8 L150.1 290.7 L150.4 290.0 L150.8 291.2 L151.1 290.7 L151.5 291.5 L151.8 289.6 L152.2 289.4 L152.5 289.4 L152.9 289.4 L153.2 288.8 L153.6 288.1 L153.9 286.5 L154.3 288.3 L154.7 289.1 L155.0 288.1 L155.4 290.1 L155.8 289.2 L156.1 289.1 L156.5 288.5 L156.8 287.2 L157.2 289.1 L157.6 288.8 L157.9 287.6 L158.3 287.3 L158.7 290.3 L159.0 287.3 L159.4 287.9 L159.7 289.0 L160.1 289.3 L160.5 288.4 L160.8 287.2 L161.2 289.3 L161.6 289.9 L161.9 289.9 L162.3 290.8 L162.6 290.9 L163.0 292.0 L163.4 292.4 L163.7 292.7 L164.1 294.0 L164.4 294.5 L164.8 293.8 L165.2 292.3 L165.5 294.8 L165.9 294.1 L166.3 296.2 L166.7 295.9 L167.0 297.2 L167.4 295.9 L167.8 295.9 L168.2 296.5 L168.6 296.8 L168.9 295.9 L169.3 296.8 L169.7 297.9 L170.7 299.9 L171.3 335.5 L171.7 334.7 L172.0 332.6 L172.4 333.7 L172.8 332.5 L173.2 331.0 L173.5 331.9 L173.9 331.1 L174.3 328.5 L174.6 328.4 L175.0 327.9 L175.4 326.4 L175.8 327.7 L176.1 326.9 L176.5 325.9 L176.9 323.2 L177.2 323.3 L177.6 320.2 L178.0 319.1 L178.3 319.1 L178.7 317.5 L179.1 315.9 L179.5 315.3 L179.8 314.2 L180.2 314.6 L180.6 309.6 L180.9 308.4 L181.3 306.6 L181.7 301.6 L182.1 300.6 L182.5 300.4 L182.8 297.6 L183.2 294.3 L183.6 291.4 L184.0 290.0 L184.4 288.8 L184.7 285.8 L185.1 285.7 L185.5 283.0 L185.8 281.7 L186.2 281.6 L186.5 280.5 L186.9 278.8 L187.3 275.1 L187.6 274.4 L188.0 274.0 L188.4 274.6 L188.7 274.5 L189.1 272.3 L189.4 272.8 L189.8 271.0 L190.2 269.7 L190.5 271.8 L190.9 271.0 L191.2 269.7 L191.6 269.2 L191.9 270.6 L192.3 269.6 L192.7 269.2 L193.0 268.7 L193.4 269.0 L193.7 268.4 L194.1 266.4 L194.5 266.5 L194.8 266.2 L195.2 265.0 L195.5 264.2 L195.9 265.8 L196.2 263.4 L196.6 262.7 L196.9 258.3 L197.3 259.0 L197.6 258.3 L198.0 257.9 L198.3 259.1 L198.7 256.6 L199.0 252.7 L199.4 254.8 L199.7 254.3 L200.1 256.4 L200.5 254.8 L200.8 253.4 L201.2 250.8 L201.6 251.7 L202.0 250.7 L202.3 250.4 L202.7 249.7 L203.1 246.3 L203.5 246.0 L203.8 241.5 L204.2 246.5 L204.5 244.0 L204.9 244.8 L205.2 243.7 L205.6 243.0 L206.0 238.8 L206.3 241.7 L206.7 240.8 L207.0 241.0 L207.4 239.7 L207.7 236.8 L208.1 236.3 L208.5 233.5 L208.8 234.3 L209.2 236.1 L209.6 234.2 L209.9 229.3 L210.3 229.4 L210.6 229.7 L211.0 228.3 L211.4 228.9 L211.7 229.0 L212.1 228.3 L212.5 226.7 L212.8 226.4 L213.2 229.2 L213.6 225.9 L213.9 223.0 L214.3 225.3 L214.6 224.8 L215.0 224.5 L215.4 221.3 L215.7 221.0 L216.1 215.5 L216.5 214.9 L216.8 215.6 L217.2 213.2 L217.6 215.0 L217.9 212.8 L218.3 215.8 L218.7 217.9 L219.1 215.5 L219.4 217.8 L219.8 218.2 L220.2 216.2 L220.6 216.1 L220.9 215.2 L221.3 214.4 L221.7 213.0 L222.1 211.3 L222.4 211.9 L222.8 211.6 L223.2 208.2 L223.6 205.1 L223.9 206.4 L224.3 200.2 L224.6 200.5 L225.0 205.7 L225.3 202.4 L225.7 202.3 L226.0 203.9 L226.4 201.3 L226.7 198.1 L227.1 200.2 L227.4 201.2 L227.8 199.7 L228.3 202.3 L228.7 205.6 L229.2 212.2 L229.6 211.4 L229.9 207.9 L230.3 208.4 L230.7 208.2 L231.0 206.1 L231.4 207.8 L231.7 210.1 L232.1 208.4 L232.5 208.8 L232.8 204.3 L233.2 207.2 L234.2 218.2 L234.6 218.6 L235.0 223.2 L235.4 228.6 L235.8 231.6 L236.2 234.3 L236.5 233.5 L236.9 235.4 L237.2 237.6 L237.6 237.1 L238.0 238.5 L238.3 244.3 L238.7 244.9 L239.1 242.6 L239.4 239.2 L239.8 241.0 L240.2 240.0 L240.6 241.1 L240.9 240.3 L241.3 240.3 L241.7 238.3 L242.1 236.9 L242.4 237.7 L242.8 241.0 L243.2 240.6 L243.6 243.7 L243.9 243.5 L244.3 246.3 L244.7 242.7 L245.0 242.8 L245.4 249.9 L245.7 246.3 L246.1 243.8 L246.4 245.8 L246.8 248.0 L247.2 248.6 L247.5 251.3 L247.9 248.5 L248.2 250.7 L248.6 252.4 L248.9 251.5 L249.3 254.4 L249.7 248.8 L250.1 251.2 L250.4 247.6 L250.8 247.2 L251.2 250.9 L251.6 247.6 L251.9 248.0 L252.3 246.3 L252.7 245.0 L253.0 242.6 L253.4 243.8 L253.8 239.2 L254.1 238.0 L254.5 236.2 L254.8 235.5 L255.2 232.7 L255.6 229.9 L255.9 231.4 L256.3 231.3 L256.7 229.3 L257.1 232.7 L257.4 229.7 L257.8 231.1 L258.2 233.2 L258.6 232.2 L258.9 235.4 L259.3 233.3 L259.7 235.3 L260.1 233.0 L260.5 235.9 L260.9 234.7 L261.2 235.8 L261.6 238.2 L262.0 239.8 L262.4 239.3 L262.8 239.6 L263.1 232.8 L263.5 239.4 L263.8 236.1 L264.2 239.4 L264.5 239.9 L264.9 242.3 L265.2 243.5 L265.6 238.6 L265.9 239.8 L266.3 242.3 L266.6 239.7 L267.0 243.8 L267.3 244.4 L267.7 244.8 L268.0 240.5 L268.4 243.3 L268.8 242.2 L269.1 244.7 L269.5 241.3 L269.8 239.9 L270.2 243.4 L270.6 242.1 L270.9 239.8 L271.3 238.3 L271.6 239.1 L272.0 238.3 L272.4 237.0 L272.8 234.4 L273.2 232.1 L273.6 235.1 L273.9 232.1 L274.3 234.7 L274.7 236.2 L275.1 233.3 L275.5 236.1 L275.9 237.7 L276.3 232.9 L276.7 239.0 L277.1 236.3 L277.7 260.4 L278.1 234.3 L278.5 234.8 L278.8 232.0 L279.2 232.9 L279.6 230.9 L279.9 228.7 L280.3 231.3 L280.6 226.3 L281.0 225.6 L281.4 223.9 L281.7 222.9 L282.1 220.2 L282.5 217.9 L282.8 221.1 L283.2 216.7 L283.6 218.4 L283.9 211.4 L284.3 215.6 L284.6 207.4 L285.0 211.9 L285.4 210.4 L285.7 205.0 L286.1 206.2 L286.5 207.5 L286.8 206.5 L287.2 204.4 L287.6 202.2 L287.9 204.1 L288.3 202.9 L288.6 200.2 L289.0 201.6 L289.4 197.6 L289.7 198.9 L290.1 196.1 L290.5 199.2 L290.9 197.8 L291.2 196.0 L291.6 193.9 L292.0 196.4 L292.4 196.9 L292.7 192.9 L293.1 186.1 L293.5 187.3 L293.9 188.0 L294.3 181.2 L294.6 184.5 L295.0 183.2 L295.4 178.9 L295.8 178.4 L296.2 182.3 L296.6 179.3 L297.0 180.9 L297.4 185.8 L297.8 187.6 L298.2 188.1 L298.6 189.1 L298.9 191.5 L299.3 186.6 L299.7 191.9 L300.0 188.1 L300.4 193.2 L300.7 196.3 L301.1 196.6 L301.5 197.7 L301.8 197.2 L302.2 200.1 L302.6 197.3 L302.9 201.1 L303.3 199.8 L303.7 202.9 L304.1 204.6 L304.4 204.5 L304.8 207.0 L305.2 206.2 L305.6 209.8 L305.9 207.2 L306.3 208.0 L306.7 211.2 L307.1 212.1 L307.4 211.5 L307.8 213.3 L308.2 214.2 L308.6 213.9 L309.0 212.5 L309.4 211.8 L309.8 209.7 L310.2 209.2 L310.6 208.8 L310.9 208.2 L311.3 210.2 L311.7 212.1 L312.0 215.2 L312.4 215.8 L312.7 216.0 L313.1 216.0 L313.5 220.1 L313.8 219.8 L314.2 220.2 L314.6 221.5 L314.9 222.6 L315.3 223.8 L315.7 223.6 L316.1 224.2 L316.4 227.2 L316.8 227.7 L317.2 227.3 L317.6 229.7 L317.9 231.7 L318.3 230.3 L318.7 230.6 L319.1 229.5 L319.5 232.6 L319.9 231.3 L320.3 232.3 L320.7 231.7 L321.0 233.2 L321.4 231.9 L321.8 233.2 L322.1 235.5 L322.5 233.7 L322.8 235.8 L323.2 236.0 L323.6 237.6 L323.9 238.5 L324.3 239.3 L324.7 241.0 L325.0 240.9 L325.4 238.9 L325.8 240.7 L326.1 241.1 L326.5 239.7 L326.8 241.5 L327.2 243.1 L327.6 243.0 L327.9 243.9 L328.3 244.3 L328.7 246.4 L329.0 245.5 L329.4 247.8 L329.8 250.3 L330.1 245.9 L330.5 246.9 L330.8 246.1 L331.2 248.6 L331.6 245.9 L331.9 243.9 L332.3 247.3 L332.7 246.6 L333.0 243.9 L333.4 244.5 L333.8 242.8 L334.1 241.7 L334.5 243.4 L334.8 242.7 L335.2 242.5 L335.6 239.5 L335.9 242.0 L336.3 241.3 L336.7 240.8 L337.0 240.9 L337.4 240.3 L337.8 244.1 L338.2 243.1 L338.5 244.6 L338.9 242.0 L339.3 244.6 L339.7 246.3 L340.0 245.7 L340.4 245.3 L340.8 248.9 L341.2 251.1 L341.5 250.9 L341.9 248.0 L342.3 248.5 L342.7 252.4 L343.0 251.3 L343.4 252.4 L343.8 251.2 L344.2 251.6 L344.6 252.5 L344.9 254.2 L345.3 254.7 L345.7 250.9 L346.1 253.9 L346.4 254.4 L346.8 254.0 L347.2 254.5 L347.6 254.7 L347.9 256.2 L348.3 255.4 L348.7 258.8 L349.1 255.6 L349.4 257.8 L349.8 258.7 L350.1 262.5 L350.4 258.9 L350.8 259.5 L351.1 261.2 L351.5 262.7 L351.9 260.6 L352.2 259.2 L352.6 260.8 L352.9 258.8 L353.3 258.5 L353.6 262.4 L354.0 262.4 L354.3 262.2 L354.7 262.5 L355.0 261.0 L355.4 264.6 L355.8 262.0 L356.2 263.6 L356.5 261.8 L356.9 261.5 L357.3 261.4 L357.7 262.2 L358.1 265.7 L358.4 265.8 L358.8 267.0 L359.2 265.6 L359.6 268.2 L359.9 269.1 L360.3 266.8 L360.6 267.9 L361.0 271.5 L361.4 267.7 L361.7 266.3 L362.1 267.8 L362.5 265.8 L362.8 267.4 L363.2 266.1 L363.6 268.4 L363.9 265.7 L364.3 263.8 L364.6 266.1 L365.0 267.5 L365.4 264.8 L365.7 265.9 L366.1 262.9 L366.4 267.8 L366.8 266.0 L367.2 269.6 L367.5 269.3 L367.9 269.3 L368.3 271.3 L368.6 270.7 L369.0 268.3 L369.4 269.2 L369.7 270.8 L370.1 271.7 L370.4 273.6 L370.8 273.3 L371.2 273.5 L371.5 274.6 L371.9 272.3 L372.3 272.4 L372.6 275.2 L373.0 274.2 L373.4 278.4 L373.8 278.1 L374.1 278.6 L374.5 279.2 L374.9 277.9 L375.2 281.0 L375.6 280.0 L376.0 280.2 L376.3 280.9 L376.7 278.0 L377.1 280.6 L377.4 280.5 L377.8 281.2 L378.2 282.9 L378.6 283.8 L378.9 284.6 L379.3 285.1 L379.7 284.9 L380.0 287.0 L380.4 285.8 L380.8 286.4 L381.1 286.8 L381.5 289.2 L381.8 286.9 L382.2 286.1 L382.6 290.3 L382.9 289.3 L383.3 290.8 L383.7 288.4 L384.0 291.2 L384.4 287.5 L384.8 288.8 L385.1 288.9 L385.5 287.1 L385.8 290.1 L386.2 289.6 L386.6 289.4 L386.9 292.4 L387.3 290.6 L387.6 293.5 L388.0 291.9 L388.3 294.0 L388.7 294.8 L389.0 293.8 L389.4 294.8 L389.8 291.8 L390.1 292.0 L390.5 291.3 L390.8 295.0 L391.2 295.0 L391.5 296.2 L391.9 292.5 L392.3 297.4 L392.6 291.4 L393.0 295.2 L393.3 294.3 L393.7 292.0 L394.1 294.0 L394.4 295.2 L394.8 293.5 L395.2 292.7 L395.5 293.7 L395.9 297.4 L396.2 294.4 L396.6 292.6 L397.0 291.4 L397.3 294.6 L397.7 293.5 L398.1 295.1 L398.4 297.3 L398.8 295.8 L399.1 297.0 L399.4 296.1 L399.8 296.9 L400.1 298.7 L400.5 297.6 L400.8 301.6 L401.2 295.4 L401.9 310.8 L402.2 314.1 L402.6 315.8 L402.9 315.6 L403.3 312.8 L403.6 312.5 L404.0 313.3 L404.3 312.3 L404.7 313.0 L405.0 313.5 L405.4 311.7 L405.8 308.8 L406.1 311.1 L406.5 312.8 L406.8 312.2 L407.2 313.6 L407.6 312.8 L407.9 314.0 L408.3 313.2 L408.7 312.3 L409.0 313.2 L409.4 314.4 L409.8 310.8 L410.1 312.2 L410.5 313.8 L410.8 312.9 L411.2 314.6 L411.6 314.8 L411.9 314.6 L412.3 314.7 L412.6 317.5 L413.0 319.8 L413.3 318.5 L413.7 315.3 L414.0 317.1 L414.4 318.9 L414.8 316.9 L415.1 321.1 L415.5 319.1 L415.8 318.2 L416.2 320.4 L416.5 320.4 L416.9 320.4 L417.3 322.4 L417.6 320.9 L418.0 319.8 L418.3 320.4 L418.7 320.7 L419.1 320.3 L419.4 320.1 L419.8 321.0 L420.2 322.6 L420.5 321.4 L420.9 323.0 L421.2 321.1 L421.6 322.7 L422.0 321.3 L422.3 323.9 L422.7 322.3 L423.1 321.1 L423.4 319.7 L423.8 322.2 L424.1 320.0 L424.5 318.5 L424.9 319.8 L425.2 320.8 L425.6 321.4 L426.0 324.5 L426.3 321.7 L426.7 321.7 L427.1 322.3 L427.4 322.8 L427.8 320.8 L428.1 322.4 L428.5 324.2" fill="none" stroke="#000" stroke-width="1.25" stroke-linejoin="round"/>
<text x="0.3" y="446.6" font-size="17" font-weight="bold" text-anchor="start" fill="#000"  >C</text>
<g stroke="#000" stroke-width="1.3" fill="none">
<path d="M41 438 L41 555.8"/>
<path d="M37.5 555.8 L41 555.8"/>
<path d="M37.5 516.8 L41 516.8"/>
<path d="M37.5 477.8 L41 477.8"/>
<path d="M37.5 438.8 L41 438.8"/>
<path d="M53 568.9 L171.5 568.9"/>
<path d="M82.8 568.9 L82.8 572"/>
<path d="M141.6 568.9 L141.6 572"/>
</g>
<text x="36.4" y="559.15" font-size="9.3" font-weight="bold" text-anchor="end" fill="#000"  letter-spacing="-0.3">0</text>
<text x="36.4" y="520.15" font-size="9.3" font-weight="bold" text-anchor="end" fill="#000"  letter-spacing="-0.3">10</text>
<text x="36.4" y="481.15" font-size="9.3" font-weight="bold" text-anchor="end" fill="#000"  letter-spacing="-0.3">20</text>
<text x="36.4" y="442.15" font-size="9.3" font-weight="bold" text-anchor="end" fill="#000"  letter-spacing="-0.3">30</text>
<text x="82.8" y="581.5" font-size="9.2" font-weight="bold" text-anchor="middle" fill="#000"  >WT</text>
<text x="140.1" y="581.5" font-size="9.2" font-weight="bold" text-anchor="middle">VAMP-8<tspan font-size="6.5" font-weight="normal" dy="-3.5">-/-</tspan></text>
<text x="111.5" y="596.3" font-size="10.2" font-weight="bold" text-anchor="middle" fill="#000"  >30 secs</text>
<text transform="translate(19.6 497.6) rotate(-90)" font-size="10.35" font-weight="bold" text-anchor="middle">Intensity (AU)</text>
<text x="95.4" y="471.4" font-size="9.4" font-weight="bold"><tspan font-style="italic">P</tspan> = .01</text>
<g stroke="#000" stroke-width="1.3" fill="none">
<path d="M219.2 438 L219.2 555.6"/>
<path d="M215.7 555.6 L219.2 555.6"/>
<path d="M215.7 527.8 L219.2 527.8"/>
<path d="M215.7 500.0 L219.2 500.0"/>
<path d="M215.7 472.2 L219.2 472.2"/>
<path d="M215.7 444.4 L219.2 444.4"/>
<path d="M231.9 568.9 L351 568.9"/>
<path d="M261.6 568.9 L261.6 572"/>
<path d="M320.3 568.9 L320.3 572"/>
</g>
<text x="214.6" y="558.95" font-size="9.3" font-weight="bold" text-anchor="end" fill="#000"  letter-spacing="-0.3">0</text>
<text x="214.6" y="531.1500000000001" font-size="9.3" font-weight="bold" text-anchor="end" fill="#000"  letter-spacing="-0.3">25</text>
<text x="214.6" y="503.35" font-size="9.3" font-weight="bold" text-anchor="end" fill="#000"  letter-spacing="-0.3">50</text>
<text x="214.6" y="475.55000000000007" font-size="9.3" font-weight="bold" text-anchor="end" fill="#000"  letter-spacing="-0.3">75</text>
<text x="214.6" y="447.75000000000006" font-size="9.3" font-weight="bold" text-anchor="end" fill="#000"  letter-spacing="-0.3">100</text>
<text x="261.6" y="581.5" font-size="9.2" font-weight="bold" text-anchor="middle" fill="#000"  >WT</text>
<text x="318.8" y="581.5" font-size="9.2" font-weight="bold" text-anchor="middle">VAMP-8<tspan font-size="6.5" font-weight="normal" dy="-3.5">-/-</tspan></text>
<text x="290" y="596.3" font-size="10.2" font-weight="bold" text-anchor="middle" fill="#000"  >Maximal size</text>
<text transform="translate(195.3 497.6) rotate(-90)" font-size="10.35" font-weight="bold" text-anchor="middle">Intensity (AU)</text>
<text x="271.7" y="471.4" font-size="9.4" font-weight="bold"><tspan font-style="italic">P</tspan> = .061</text>
<g stroke="#000" stroke-width="1.3" fill="none">
<path d="M388.8 438 L388.8 555.7"/>
<path d="M385.3 555.7 L388.8 555.7"/>
<path d="M385.3 532.3 L388.8 532.3"/>
<path d="M385.3 508.9 L388.8 508.9"/>
<path d="M385.3 485.5 L388.8 485.5"/>
<path d="M385.3 462.1 L388.8 462.1"/>
<path d="M385.3 438.7 L388.8 438.7"/>
<path d="M402.3 568.9 L520 568.9"/>
<path d="M431.6 568.9 L431.6 572"/>
<path d="M490.1 568.9 L490.1 572"/>
</g>
<text x="384.2" y="559.0500000000001" font-size="9.3" font-weight="bold" text-anchor="end" fill="#000"  letter-spacing="-0.3">0</text>
<text x="384.2" y="535.6500000000001" font-size="9.3" font-weight="bold" text-anchor="end" fill="#000"  letter-spacing="-0.3">20</text>
<text x="384.2" y="512.25" font-size="9.3" font-weight="bold" text-anchor="end" fill="#000"  letter-spacing="-0.3">40</text>
<text x="384.2" y="488.8500000000001" font-size="9.3" font-weight="bold" text-anchor="end" fill="#000"  letter-spacing="-0.3">60</text>
<text x="384.2" y="465.45000000000005" font-size="9.3" font-weight="bold" text-anchor="end" fill="#000"  letter-spacing="-0.3">80</text>
<text x="384.2" y="442.05000000000007" font-size="9.3" font-weight="bold" text-anchor="end" fill="#000"  letter-spacing="-0.3">100</text>
<text x="431.6" y="581.5" font-size="9.2" font-weight="bold" text-anchor="middle" fill="#000"  >WT</text>
<text x="488.6" y="581.5" font-size="9.2" font-weight="bold" text-anchor="middle">VAMP-8<tspan font-size="6.5" font-weight="normal" dy="-3.5">-/-</tspan></text>
<text x="460" y="596.3" font-size="10.2" font-weight="bold" text-anchor="middle" fill="#000"  >180 secs</text>
<text transform="translate(365.3 497.6) rotate(-90)" font-size="10.35" font-weight="bold" text-anchor="middle">Intensity (AU)</text>
<text x="443.7" y="471.4" font-size="9.4" font-weight="bold"><tspan font-style="italic">P</tspan> = .01</text>
<rect x="72.5" y="450.4" width="5.3" height="5.3" fill="#000"/>
<rect x="80.5" y="454.4" width="5.3" height="5.3" fill="#000"/>
<rect x="80.5" y="480.6" width="5.3" height="5.3" fill="#000"/>
<rect x="72.5" y="491.4" width="5.3" height="5.3" fill="#000"/>
<rect x="80.6" y="498.9" width="5.3" height="5.3" fill="#000"/>
<rect x="64.8" y="513.6" width="5.3" height="5.3" fill="#000"/>
<rect x="72.5" y="514.9" width="5.3" height="5.3" fill="#000"/>
<rect x="80.6" y="516.0" width="5.3" height="5.3" fill="#000"/>
<rect x="88.1" y="515.6" width="5.3" height="5.3" fill="#000"/>
<rect x="95.9" y="513.6" width="5.3" height="5.3" fill="#000"/>
<rect x="72.5" y="523.6" width="5.3" height="5.3" fill="#000"/>
<rect x="80.6" y="524.2" width="5.3" height="5.3" fill="#000"/>
<rect x="88.1" y="522.6" width="5.3" height="5.3" fill="#000"/>
<rect x="88.1" y="530.6" width="5.3" height="5.3" fill="#000"/>
<rect x="80.6" y="534.1" width="5.3" height="5.3" fill="#000"/>
<rect x="80.6" y="543.6" width="5.3" height="5.3" fill="#000"/>
<rect x="68.5" y="547.1" width="5.3" height="5.3" fill="#000"/>
<rect x="81.9" y="545.9" width="5.3" height="5.3" fill="#000"/>
<rect x="91.1" y="548.9" width="5.3" height="5.3" fill="#000"/>
<rect x="64.2" y="552.8" width="5.3" height="5.3" fill="#000"/>
<rect x="71.9" y="552.8" width="5.3" height="5.3" fill="#000"/>
<rect x="76.5" y="552.8" width="5.3" height="5.3" fill="#000"/>
<rect x="80.4" y="552.8" width="5.3" height="5.3" fill="#000"/>
<rect x="85.0" y="552.8" width="5.3" height="5.3" fill="#000"/>
<rect x="88.8" y="552.8" width="5.3" height="5.3" fill="#000"/>
<rect x="95.8" y="552.8" width="5.3" height="5.3" fill="#000"/>
<rect x="76.5" y="550.4" width="5.3" height="5.3" fill="#000"/>
<path d="M63.1 530.4 L102.9 530.4" stroke="#000" stroke-width="1.6"/>
<circle cx="141.6" cy="502.2" r="2.75" fill="#000"/>
<circle cx="126.0" cy="538.4" r="2.75" fill="#000"/>
<circle cx="157.0" cy="536.6" r="2.75" fill="#000"/>
<circle cx="133.5" cy="541.7" r="2.75" fill="#000"/>
<circle cx="141.6" cy="542.4" r="2.75" fill="#000"/>
<circle cx="149.3" cy="541.7" r="2.75" fill="#000"/>
<circle cx="132.3" cy="547.4" r="2.75" fill="#000"/>
<circle cx="141.3" cy="548.8" r="2.75" fill="#000"/>
<circle cx="150.2" cy="547.8" r="2.75" fill="#000"/>
<circle cx="142.2" cy="551.0" r="2.75" fill="#000"/>
<circle cx="124.2" cy="555.0" r="2.75" fill="#000"/>
<circle cx="127.3" cy="555.0" r="2.75" fill="#000"/>
<circle cx="130.5" cy="555.0" r="2.75" fill="#000"/>
<circle cx="133.7" cy="555.0" r="2.75" fill="#000"/>
<circle cx="136.8" cy="555.0" r="2.75" fill="#000"/>
<circle cx="139.8" cy="555.0" r="2.75" fill="#000"/>
<circle cx="143.0" cy="555.0" r="2.75" fill="#000"/>
<circle cx="146.3" cy="555.0" r="2.75" fill="#000"/>
<circle cx="149.3" cy="555.0" r="2.75" fill="#000"/>
<circle cx="152.4" cy="555.0" r="2.75" fill="#000"/>
<circle cx="155.6" cy="555.0" r="2.75" fill="#000"/>
<circle cx="158.8" cy="555.0" r="2.75" fill="#000"/>
<path d="M121.2 555 L161.9 555" stroke="#000" stroke-width="1.6"/>
<rect x="258.9" y="439.9" width="5.3" height="5.3" fill="#000"/>
<rect x="266.6" y="439.5" width="5.3" height="5.3" fill="#000"/>
<rect x="258.9" y="473.0" width="5.3" height="5.3" fill="#000"/>
<rect x="259.0" y="504.4" width="5.3" height="5.3" fill="#000"/>
<rect x="243.2" y="514.9" width="5.3" height="5.3" fill="#000"/>
<rect x="274.5" y="514.1" width="5.3" height="5.3" fill="#000"/>
<rect x="266.7" y="516.1" width="5.3" height="5.3" fill="#000"/>
<rect x="250.9" y="521.0" width="5.3" height="5.3" fill="#000"/>
<rect x="259.0" y="521.6" width="5.3" height="5.3" fill="#000"/>
<rect x="250.9" y="533.1" width="5.3" height="5.3" fill="#000"/>
<rect x="259.0" y="533.5" width="5.3" height="5.3" fill="#000"/>
<rect x="266.7" y="533.5" width="5.3" height="5.3" fill="#000"/>
<rect x="243.2" y="537.5" width="5.3" height="5.3" fill="#000"/>
<rect x="243.2" y="545.1" width="5.3" height="5.3" fill="#000"/>
<rect x="250.9" y="543.8" width="5.3" height="5.3" fill="#000"/>
<rect x="250.9" y="547.1" width="5.3" height="5.3" fill="#000"/>
<rect x="259.0" y="542.5" width="5.3" height="5.3" fill="#000"/>
<rect x="259.0" y="550.6" width="5.3" height="5.3" fill="#000"/>
<rect x="266.7" y="543.8" width="5.3" height="5.3" fill="#000"/>
<rect x="266.7" y="547.9" width="5.3" height="5.3" fill="#000"/>
<rect x="274.5" y="545.9" width="5.3" height="5.3" fill="#000"/>
<rect x="255.0" y="541.8" width="5.3" height="5.3" fill="#000"/>
<rect x="263.1" y="541.8" width="5.3" height="5.3" fill="#000"/>
<rect x="271.1" y="543.1" width="5.3" height="5.3" fill="#000"/>
<rect x="247.2" y="545.4" width="5.3" height="5.3" fill="#000"/>
<rect x="255.0" y="547.4" width="5.3" height="5.3" fill="#000"/>
<rect x="263.1" y="547.4" width="5.3" height="5.3" fill="#000"/>
<rect x="271.1" y="548.4" width="5.3" height="5.3" fill="#000"/>
<rect x="243.8" y="548.9" width="5.3" height="5.3" fill="#000"/>
<rect x="274.5" y="549.9" width="5.3" height="5.3" fill="#000"/>
<rect x="247.2" y="541.9" width="5.3" height="5.3" fill="#000"/>
<path d="M241.4 541.5 L281.8 541.5" stroke="#000" stroke-width="1.6"/>
<circle cx="312.2" cy="515.1" r="2.75" fill="#000"/>
<circle cx="320.3" cy="520.9" r="2.75" fill="#000"/>
<circle cx="335.8" cy="532.0" r="2.75" fill="#000"/>
<circle cx="312.2" cy="535.0" r="2.75" fill="#000"/>
<circle cx="327.7" cy="536.1" r="2.75" fill="#000"/>
<circle cx="308.2" cy="539.0" r="2.75" fill="#000"/>
<circle cx="319.9" cy="538.4" r="2.75" fill="#000"/>
<circle cx="316.2" cy="541.7" r="2.75" fill="#000"/>
<circle cx="323.6" cy="541.7" r="2.75" fill="#000"/>
<circle cx="304.1" cy="544.1" r="2.75" fill="#000"/>
<circle cx="335.8" cy="543.1" r="2.75" fill="#000"/>
<circle cx="312.2" cy="545.8" r="2.75" fill="#000"/>
<circle cx="320.3" cy="546.4" r="2.75" fill="#000"/>
<circle cx="327.7" cy="545.5" r="2.75" fill="#000"/>
<circle cx="304.1" cy="551.4" r="2.75" fill="#000"/>
<circle cx="308.2" cy="549.8" r="2.75" fill="#000"/>
<circle cx="312.2" cy="552.5" r="2.75" fill="#000"/>
<circle cx="316.2" cy="550.0" r="2.75" fill="#000"/>
<circle cx="320.3" cy="554.5" r="2.75" fill="#000"/>
<circle cx="324.3" cy="551.1" r="2.75" fill="#000"/>
<circle cx="327.7" cy="553.6" r="2.75" fill="#000"/>
<circle cx="331.7" cy="550.0" r="2.75" fill="#000"/>
<circle cx="335.8" cy="551.8" r="2.75" fill="#000"/>
<path d="M300.1 545.8 L340.5 545.8" stroke="#000" stroke-width="1.6"/>
<rect x="428.9" y="438.6" width="5.3" height="5.3" fill="#000"/>
<rect x="428.9" y="471.6" width="5.3" height="5.3" fill="#000"/>
<rect x="428.9" y="509.1" width="5.3" height="5.3" fill="#000"/>
<rect x="413.2" y="539.0" width="5.3" height="5.3" fill="#000"/>
<rect x="429.0" y="535.6" width="5.3" height="5.3" fill="#000"/>
<rect x="436.7" y="532.2" width="5.3" height="5.3" fill="#000"/>
<rect x="421.0" y="543.5" width="5.3" height="5.3" fill="#000"/>
<rect x="429.0" y="544.0" width="5.3" height="5.3" fill="#000"/>
<rect x="436.7" y="540.4" width="5.3" height="5.3" fill="#000"/>
<rect x="436.7" y="543.6" width="5.3" height="5.3" fill="#000"/>
<rect x="413.4" y="551.9" width="5.3" height="5.3" fill="#000"/>
<rect x="417.4" y="551.9" width="5.3" height="5.3" fill="#000"/>
<rect x="421.4" y="551.9" width="5.3" height="5.3" fill="#000"/>
<rect x="425.4" y="551.9" width="5.3" height="5.3" fill="#000"/>
<rect x="429.4" y="551.9" width="5.3" height="5.3" fill="#000"/>
<rect x="433.4" y="551.9" width="5.3" height="5.3" fill="#000"/>
<rect x="437.4" y="551.9" width="5.3" height="5.3" fill="#000"/>
<rect x="441.4" y="551.9" width="5.3" height="5.3" fill="#000"/>
<rect x="444.9" y="551.9" width="5.3" height="5.3" fill="#000"/>
<rect x="418.4" y="548.9" width="5.3" height="5.3" fill="#000"/>
<rect x="426.4" y="548.9" width="5.3" height="5.3" fill="#000"/>
<rect x="434.4" y="548.9" width="5.3" height="5.3" fill="#000"/>
<rect x="442.4" y="548.9" width="5.3" height="5.3" fill="#000"/>
<path d="M411.4 552 L451.8 552" stroke="#000" stroke-width="1.6"/>
<circle cx="490.1" cy="520.5" r="2.75" fill="#000"/>
<circle cx="490.1" cy="539.9" r="2.75" fill="#000"/>
<circle cx="473.6" cy="553.7" r="2.75" fill="#000"/>
<circle cx="478.3" cy="553.7" r="2.75" fill="#000"/>
<circle cx="482.3" cy="553.7" r="2.75" fill="#000"/>
<circle cx="486.3" cy="553.7" r="2.75" fill="#000"/>
<circle cx="490.4" cy="553.7" r="2.75" fill="#000"/>
<circle cx="494.4" cy="553.7" r="2.75" fill="#000"/>
<circle cx="498.5" cy="553.7" r="2.75" fill="#000"/>
<circle cx="502.5" cy="553.7" r="2.75" fill="#000"/>
<circle cx="507.2" cy="553.7" r="2.75" fill="#000"/>
<circle cx="476.0" cy="552.5" r="2.75" fill="#000"/>
<circle cx="488.0" cy="555.0" r="2.75" fill="#000"/>
<circle cx="500.0" cy="552.5" r="2.75" fill="#000"/>
<path d="M470.2 553.5 L509.9 553.5" stroke="#000" stroke-width="1.6"/>
</svg></body></html>
